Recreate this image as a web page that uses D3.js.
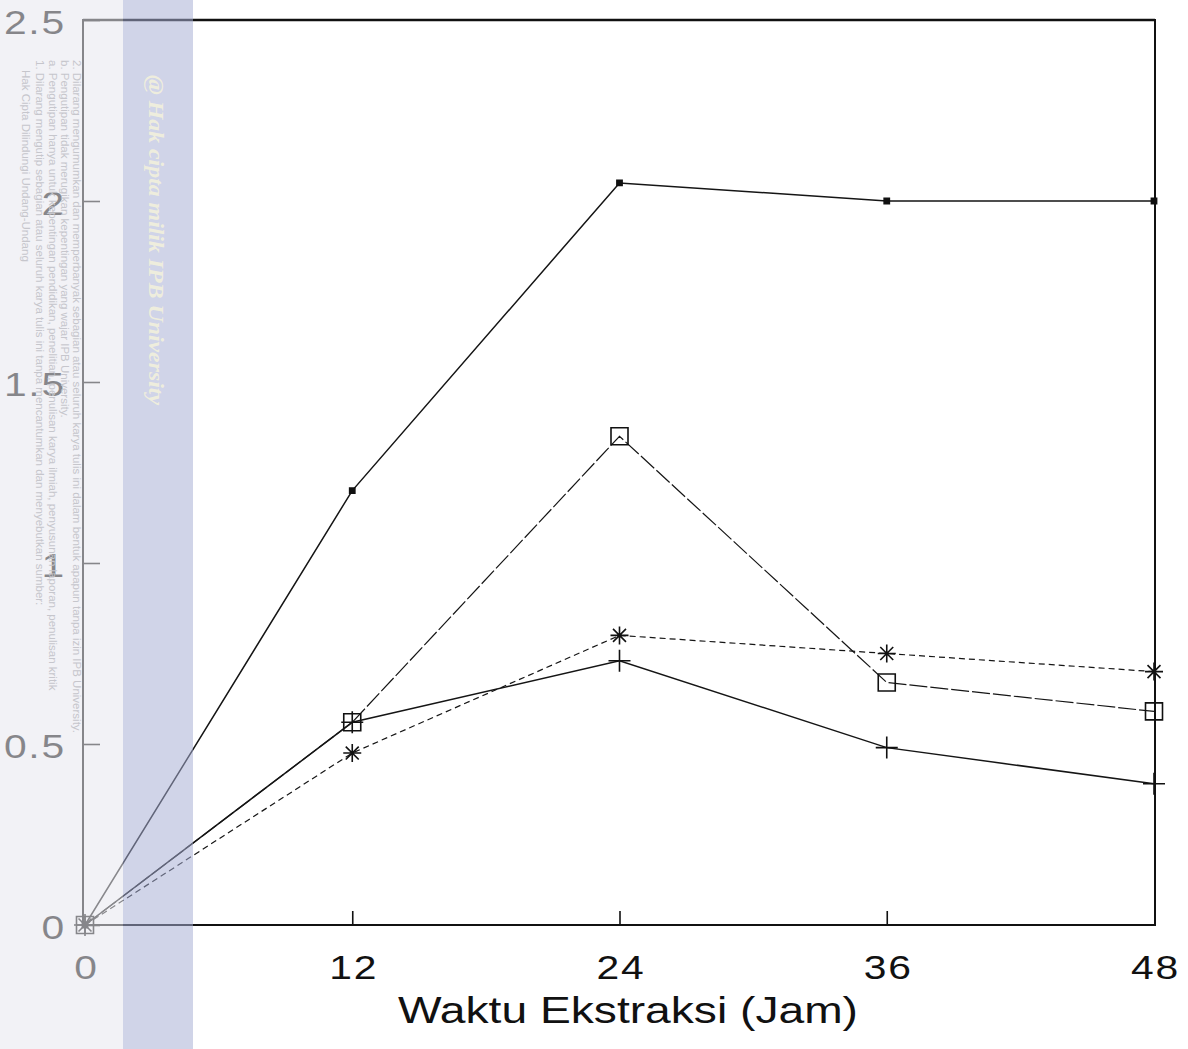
<!DOCTYPE html>
<html>
<head>
<meta charset="utf-8">
<script src="https://cdn.jsdelivr.net/npm/d3@7"></script>
<style>
  html, body { margin: 0; padding: 0; background: #fff; }
  svg { display: block; }
</style>
</head>
<body>
<svg id="chart" width="1188" height="1049"></svg>
<script>
// Extraction time (hours) and measured values for the four treatments
const hours = [0, 12, 24, 36, 48];
const seriesDot = [0, 1.2, 2.05, 2.0, 2.0];
const seriesSquare = [0, 0.56, 1.35, 0.67, 0.59];
const seriesStar = [0, 0.475, 0.80, 0.75, 0.70];
const seriesPlus = [0, 0.56, 0.73, 0.49, 0.39];

const xTicks = [0, 12, 24, 36, 48];
const yTicks = [0, 0.5, 1, 1.5, 2, 2.5];
const xTitle = "Waktu Ekstraksi (Jam)";

const marginNotes = [
  "Hak Cipta Dilindungi Undang-Undang",
  "1. Dilarang mengutip sebagian atau seluruh karya tulis ini tanpa mencantumkan dan menyebutkan sumber:",
  "a. Pengutipan hanya untuk kepentingan pendidikan, penelitian, penulisan karya ilmiah, penyusunan laporan, penulisan kritik",
  "b. Pengutipan tidak merugikan kepentingan yang wajar IPB University.",
  "2. Dilarang mengumumkan dan memperbanyak sebagian atau seluruh karya tulis ini dalam bentuk apapun tanpa izin IPB University."
];
const bandText = "@ Hak cipta milik IPB University";

const svg = d3.select("#chart");
const W = 1188, H = 1049;
const plot = { left: 83, right: 1155, top: 20, bottom: 925 };

const x = d3.scaleLinear().domain([0, 48]).range([85, 1154]);
const y = d3.scaleLinear().domain([0, 2.5]).range([plot.bottom, plot.top]);

svg.append("rect").attr("width", W).attr("height", H).attr("fill", "#fff");

const FONT = "'Liberation Sans', Arial, Helvetica, sans-serif";

// ---- axes ----
const yAxis = svg.append("g")
  .attr("transform", `translate(${plot.left},0)`)
  .call(d3.axisLeft(y).tickValues(yTicks).tickFormat(d => String(d))
    .tickSizeInner(-17).tickSizeOuter(0).tickPadding(0));
yAxis.select(".domain").remove();
yAxis.selectAll(".tick line").attr("stroke", "#111").attr("stroke-width", 1.6);
yAxis.selectAll(".tick text")
  .attr("x", null)
  .attr("dy", "0.40em")
  .attr("transform", "translate(-17,0) scale(1.2,1)")
  .attr("fill", "#111")
  .style("font-family", FONT)
  .style("font-size", "34px")
  .style("letter-spacing", "1.5px");

const xAxis = svg.append("g")
  .attr("transform", `translate(0,${plot.bottom})`)
  .call(d3.axisBottom(x).tickValues(xTicks).tickFormat(d => String(d))
    .tickSizeInner(-14).tickSizeOuter(0).tickPadding(0));
xAxis.select(".domain").remove();
xAxis.selectAll(".tick line").attr("stroke", "#111").attr("stroke-width", 1.6)
  .attr("display", d => (d === 0 || d === 48) ? "none" : null);
xAxis.selectAll(".tick text")
  .attr("y", null)
  .attr("dy", null)
  .attr("transform", "translate(1,54) scale(1.2,1)")
  .attr("fill", "#111")
  .style("font-family", FONT)
  .style("font-size", "34px")
  .style("letter-spacing", "1.5px");

// frame
svg.append("rect")
  .attr("x", plot.left).attr("y", plot.top)
  .attr("width", plot.right - plot.left).attr("height", plot.bottom - plot.top)
  .attr("fill", "none").attr("stroke", "#111").attr("stroke-width", 2);
svg.append("line")
  .attr("x1", plot.left).attr("x2", plot.right)
  .attr("y1", plot.top).attr("y2", plot.top)
  .attr("stroke", "#111").attr("stroke-width", 2.6);

svg.append("text")
  .attr("x", 398).attr("y", 1023)
  .attr("textLength", 460).attr("lengthAdjust", "spacingAndGlyphs")
  .attr("fill", "#111")
  .style("font-family", FONT)
  .style("font-size", "37px")
  .text(xTitle);

// ---- marker shapes (size = half-width) ----
const symSmallSquare = { draw(ctx, r) { ctx.rect(-r, -r, 2 * r, 2 * r); } };
const symOpenSquare = { draw(ctx, r) { ctx.rect(-r, -r, 2 * r, 2 * r); } };
const symAsterisk = { draw(ctx, r) {
  const d = r * 0.72;
  ctx.moveTo(0, -r); ctx.lineTo(0, r);
  ctx.moveTo(-r, 0); ctx.lineTo(r, 0);
  ctx.moveTo(-d, -d); ctx.lineTo(d, d);
  ctx.moveTo(-d, d); ctx.lineTo(d, -d);
} };
const symPlus = { draw(ctx, r) {
  ctx.moveTo(0, -r); ctx.lineTo(0, r);
  ctx.moveTo(-r, 0); ctx.lineTo(r, 0);
} };

const series = [
  { values: seriesDot, dash: null, width: 1.5, sym: symSmallSquare, r: 2.6, fill: "#111" },
  { values: seriesSquare, dash: "18,3", width: 1.2, sym: symOpenSquare, r: 8.5, fill: "none" },
  { values: seriesStar, dash: "6,4", width: 1.2, sym: symAsterisk, r: 9, fill: "none" },
  { values: seriesPlus, dash: null, width: 1.5, sym: symPlus, r: 11, fill: "none" }
];

const line = d3.line().x(d => x(d[0])).y(d => y(d[1]));

const marks = svg.append("g");
series.forEach(s => {
  const pts = hours.map((h, i) => [h, s.values[i]]);
  marks.append("path")
    .attr("d", line(pts))
    .attr("fill", "none")
    .attr("stroke", "#151515")
    .attr("stroke-width", s.width)
    .attr("stroke-dasharray", s.dash);
  marks.selectAll(null)
    .data(pts)
    .join("path")
    .attr("transform", d => `translate(${x(d[0])},${y(d[1])})`)
    .attr("d", d3.symbol().type(s.sym).size(s.r))
    .attr("fill", s.fill)
    .attr("stroke", "#111")
    .attr("stroke-width", 1.6);
});

// ---- left margin band with repository notice ----
svg.append("rect").attr("x", 0).attr("y", 0).attr("width", 123).attr("height", H)
  .attr("fill", "rgb(231,231,238)").attr("fill-opacity", 0.55);
svg.append("rect").attr("x", 123).attr("y", 0).attr("width", 70).attr("height", H)
  .attr("fill", "rgb(166,174,211)").attr("fill-opacity", 0.53);

const noteX = [22, 36, 49, 61, 73];
svg.append("g").selectAll("text")
  .data(marginNotes)
  .join("text")
  .attr("transform", (d, i) => `translate(${noteX[i]},${i === 0 ? 70 : 60}) rotate(90)`)
  .attr("fill", "#c6c6cc")
  .style("font-family", FONT)
  .style("font-size", "11.5px")
  .text(d => d);

svg.append("text")
  .attr("transform", "translate(149,75) rotate(90)")
  .attr("textLength", 330).attr("lengthAdjust", "spacingAndGlyphs")
  .attr("fill", "#f3f1dc")
  .attr("fill-opacity", 0.9)
  .style("font-family", "'Liberation Serif', 'DejaVu Serif', serif")
  .style("font-style", "italic")
  .style("font-weight", "bold")
  .style("font-size", "21px")
  .text(bandText);
</script>
</body>
</html>
